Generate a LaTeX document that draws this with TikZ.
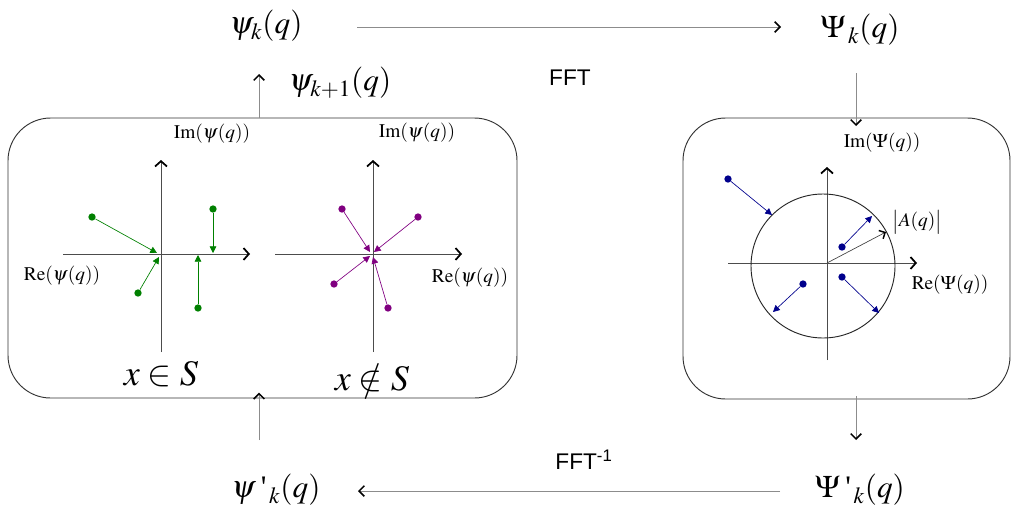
\documentclass[tikz,border=0pt]{standalone}
\usepackage{mathptmx}
\usepackage[no-math]{fontspec}
\setmainfont{Liberation Serif}
\setsansfont{Liberation Sans}
\usetikzlibrary{arrows.meta}
\definecolor{dgreen}{RGB}{0,128,0}
\definecolor{dpurple}{RGB}{128,0,128}
\definecolor{dblue}{RGB}{0,0,140}
\newcommand{\strq}{\mbox{\,\textquotesingle}}
\tikzset{
  big/.style={font=\fontsize{23.5}{28}\selectfont, inner sep=0pt},
  huge/.style={font=\fontsize{27}{32}\selectfont, inner sep=0pt},
  axlab/.style={font=\fontsize{14.5}{17}\selectfont, inner sep=0pt},
  sflab/.style={font=\sffamily\fontsize{17}{20}\selectfont, inner sep=0pt},
  flow/.style={draw=black!45, line width=0.6pt, -{Straight Barb[length=4pt,width=8pt,color=black,line width=1.1pt]}},
  axis/.style={draw=black!70, line width=0.6pt, -{Straight Barb[length=4pt,width=9pt,color=black,line width=1.3pt]}},
  panel/.style={draw=black!80, line width=0.7pt, rounded corners=32pt},
  dot/.style={circle, fill=#1, inner sep=0pt, minimum size=5.5pt},
  vec/.style={draw=#1, line width=0.5pt, -{Triangle[length=5pt,width=5pt,color=#1]}},
}
\begin{document}
\begin{tikzpicture}[x=0.75pt,y=-0.75pt]
\path[use as bounding box] (0,0) rectangle (1012,514);

% main labels
\node[big] (pk) at (266,26) {$\psi_k(q)$};
\node[big] (Pk) at (860,30) {$\Psi_{\,k}(q)$};
\node[big] (pk1) at (340,83) {$\psi_{k+1}(q)$};
\node[big] (ppk) at (276,490) {$\psi\strq_{\,k}(q)$};
\node[big] (Ppk) at (860,490) {$\Psi\strq_{\,k}(q)$};
\node[sflab] (fft) at (570,78) {FFT};
\node[sflab] (ifft) at (584,460) {FFT\textsuperscript{-1}};

% panels
\draw[panel] (8,118) rectangle (517,398);
\coordinate (Lt) at (259,118);
\coordinate (Lb) at (259,398);
\draw[panel] (683,118) rectangle (1010,399);
\coordinate (Rt) at (856,118);
\coordinate (Rb) at (856,399);

% flow connectors
\coordinate (a1s) at (357,27);
\coordinate (a1e) at (781,27);
\draw[flow] (a1s) -- (a1e);
\coordinate (a2s) at (856,73);
\draw[flow] (a2s) -- ([yshift=-6]Rt);
\coordinate (a3e) at (856,440);
\draw[flow] ([yshift=2]Rb) -- (a3e);
\coordinate (a4s) at (780,491);
\coordinate (a4e) at (358,491);
\draw[flow] (a4s) -- (a4e);
\coordinate (a5s) at (259,440);
\draw[flow] (a5s) -- ([yshift=4]Lb);
\draw[flow] (Lt) -- (259,74);

% ---- plot 1 (x in S)
\coordinate (o1) at (161,254);
\draw[axis] (63,254) -- (250,254);
\draw[black!70, line width=0.6pt] (161,352) -- (161,162);
\draw[axis] (161,200) -- (161,160);
\node[axlab] (im1) at (212,134) {$\mathrm{Im}(\psi(q))$};
\node[axlab] (re1) at (62,276) {$\mathrm{Re}(\psi(q))$};
\node[dot=dgreen] (g1) at (92,217) {};
\node[dot=dgreen] (g2) at (138,293) {};
\node[dot=dgreen] (g3) at (213,209) {};
\node[dot=dgreen] (g4) at (198,308) {};
\coordinate (g1e) at (157,253);
\coordinate (g2e) at (159,257);
\coordinate (g3e) at (213,253);
\coordinate (g4e) at (198,255);
\draw[vec=dgreen] (g1) -- (g1e);
\draw[vec=dgreen] (g2) -- (g2e);
\draw[vec=dgreen] (g3) -- (g3e);
\draw[vec=dgreen] (g4) -- (g4e);
\node[huge] (inS) at (161,374) {$x\in S$};

% ---- plot 2 (x not in S)
\draw[axis] (275,254) -- (462,254);
\draw[black!70, line width=0.6pt] (373,352) -- (373,162);
\draw[axis] (373,200) -- (373,160);
\node[axlab] (im2) at (417,133) {$\mathrm{Im}(\psi(q))$};
\node[axlab] (re2) at (470,278) {$\mathrm{Re}(\psi(q))$};
\node[dot=dpurple] (p1) at (342,209) {};
\node[dot=dpurple] (p2) at (418,217) {};
\node[dot=dpurple] (p3) at (334,284) {};
\node[dot=dpurple] (p4) at (388,308) {};
\coordinate (p1e) at (370,252);
\coordinate (p2e) at (374,252);
\coordinate (p3e) at (370,256);
\coordinate (p4e) at (373,257);
\draw[vec=dpurple] (p1) -- (p1e);
\draw[vec=dpurple] (p2) -- (p2e);
\draw[vec=dpurple] (p3) -- (p3e);
\draw[vec=dpurple] (p4) -- (p4e);
\node[huge] (ninS) at (372,378) {$x\notin S$};

% ---- plot 3 (Fourier domain)
\coordinate (o3) at (827,263);
\draw[black!70, line width=0.6pt] (728,263) -- (900,263);
\draw[axis] (880,263) -- (917,263);
\draw[black!70, line width=0.6pt] (827,360) -- (827,172);
\draw[axis] (827,200) -- (827,167);
\draw[black!85, line width=0.7pt] (823,266) circle[radius=54pt];
\node[axlab] (im3) at (882,143) {$\mathrm{Im}(\Psi(q))$};
\node[axlab] (re3) at (950,285) {$\mathrm{Re}(\Psi(q))$};
\node[axlab] (amp) at (917,222) {$\bigl|A(q)\bigr|$};
\coordinate (r3) at (886,232);
\draw[black!75, line width=0.5pt, -{Straight Barb[length=3.5pt,width=7pt,color=black,line width=1.1pt]}] (o3) -- (r3);
\node[dot=dblue] (b1) at (728,179) {};
\node[dot=dblue] (b2) at (842,247) {};
\node[dot=dblue] (b3) at (803,284) {};
\node[dot=dblue] (b4) at (842,277) {};
\coordinate (b1e) at (772,215);
\coordinate (b2e) at (872,216);
\coordinate (b3e) at (773,312);
\coordinate (b4e) at (879,313);
\draw[vec=dblue] (b1) -- (b1e);
\draw[vec=dblue] (b2) -- (b2e);
\draw[vec=dblue] (b3) -- (b3e);
\draw[vec=dblue] (b4) -- (b4e);
\end{tikzpicture}
\end{document}
